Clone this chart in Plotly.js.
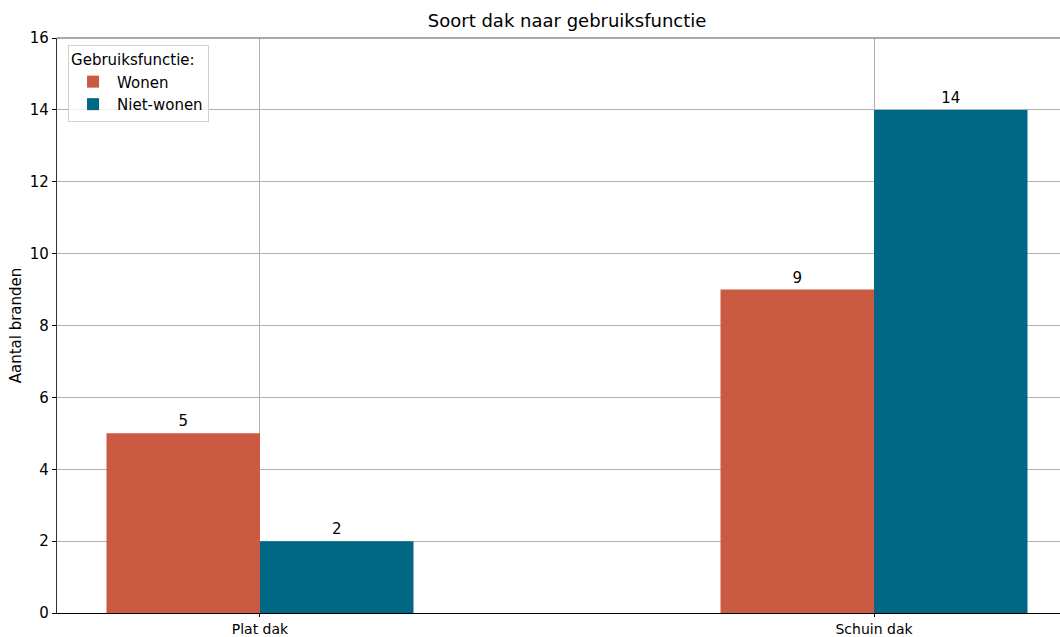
<!DOCTYPE html>
<html><head><meta charset="utf-8">
<script src="https://cdn.plot.ly/plotly-3.0.1.min.js"></script>
<style>html,body{margin:0;padding:0;background:#fff}#chart{width:1060px;height:637px}</style>
</head><body><div id="chart"></div>
<script>
const categories = ['Plat dak', 'Schuin dak'];
const wonen = [5, 9];
const nietWonen = [2, 14];
const seriesNames = ['Wonen', 'Niet-wonen'];
const colors = ['#CB5A42', '#006885'];

const FAM = 'DejaVu Sans, sans-serif';
const traces = [wonen, nietWonen].map((vals, i) => ({
  type: 'bar', x: categories, y: vals, name: seriesNames[i],
  marker: {color: colors[i], line: {width: 0}},
  text: vals.map(String), textposition: 'outside', cliponaxis: false,
  textfont: {family: FAM, size: 15, color: '#000'}
}));

const layout = {
  width: 1060, height: 637,
  margin: {l: 57, r: 0, t: 38, b: 24},
  paper_bgcolor: '#fff', plot_bgcolor: '#fff',
  font: {family: FAM, size: 15, color: '#000'},
  title: {text: 'Soort dak naar gebruiksfunctie', font: {family: FAM, size: 18, color: '#000'}, x: 0.535, xanchor: 'center', y: 0.978, yanchor: 'top'},
  barmode: 'group', bargap: 0.5, bargroupgap: 0,
  xaxis: {
    type: 'category', range: [-0.3306, 1.3029],
    showgrid: true, gridcolor: '#b0b0b0', gridwidth: 1,
    showline: true, linecolor: '#000', linewidth: 1.2,
    ticks: 'outside', ticklen: 3, tickcolor: '#000',
    tickfont: {family: FAM, size: 14, color: '#000'}, zeroline: false
  },
  yaxis: {
    range: [0, 16], dtick: 2, tick0: 0,
    showgrid: true, gridcolor: '#b0b0b0', gridwidth: 1,
    showline: true, linecolor: '#333', linewidth: 1.2,
    ticks: 'outside', ticklen: 4, tickcolor: '#000',
    tickfont: {family: FAM, size: 15, color: '#000'}, zeroline: false,
    title: {text: 'Aantal branden', font: {family: FAM, size: 15, color: '#000'}, standoff: 4}
  },
  shapes: [{type: 'line', xref: 'paper', yref: 'paper', x0: 0, x1: 1, y0: 1, y1: 1, line: {color: '#555', width: 1.2}}],
  legend: {
    x: 0.011, y: 0.988, xanchor: 'left', yanchor: 'top',
    bgcolor: 'rgba(255,255,255,0.8)', bordercolor: '#d0d0d0', borderwidth: 1,
    title: {text: 'Gebruiksfunctie:', font: {family: FAM, size: 15, color: '#000'}, side: 'top'},
    font: {family: FAM, size: 15, color: '#000'},
    traceorder: 'normal', itemwidth: 38
  },
  showlegend: true
};
Plotly.newPlot('chart', traces, layout, {displayModeBar: false, staticPlot: true});
</script></body></html>
